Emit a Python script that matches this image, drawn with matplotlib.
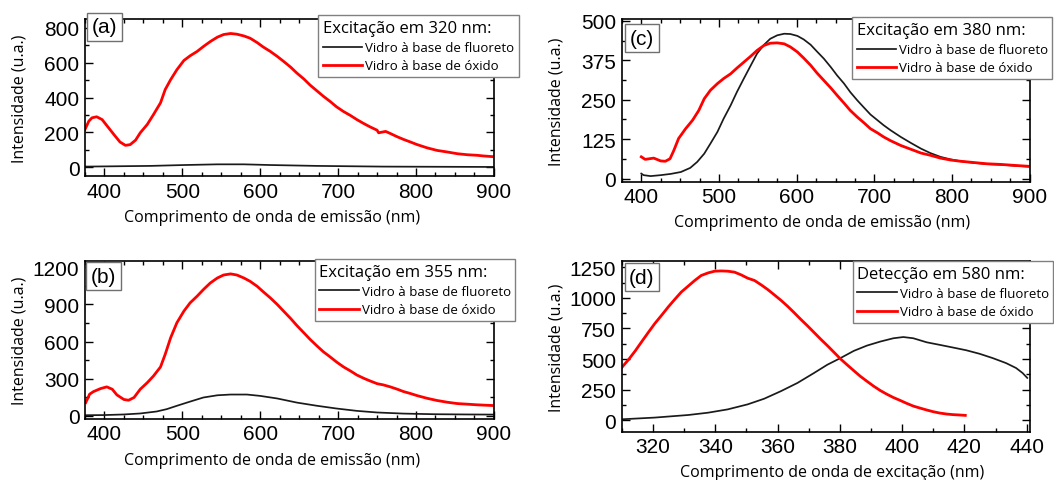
import numpy as np
import matplotlib
matplotlib.use('Agg')
import matplotlib.pyplot as plt
from matplotlib.ticker import MultipleLocator

# (a) excitation at 320 nm
a_ox_x = [375, 380, 384, 390, 397, 403, 412, 420, 427, 433, 440, 446, 455, 463, 472, 478, 485, 493, 502, 510,
          519, 527, 536, 545, 553, 562, 570, 579, 587, 596, 604, 613, 622, 630, 639, 647, 656, 664, 673, 681,
          690, 698, 707, 716, 724, 733, 741, 750, 752, 761, 767, 776, 784, 793, 801, 814, 827, 840, 853, 866,
          878, 887, 899]
a_ox_y = [217, 265, 284, 290, 274, 240, 189, 145, 126, 130, 156, 198, 246, 303, 370, 446, 503, 560, 613, 640,
          665, 693, 722, 747, 762, 768, 764, 754, 741, 716, 690, 665, 636, 608, 575, 541, 507, 472, 438, 408,
          377, 347, 320, 297, 274, 251, 232, 213, 198, 206, 194, 175, 160, 145, 131, 112, 97, 88, 78, 72,
          69, 65, 61]
a_fl_x = [375, 459, 502, 545, 579, 613, 673, 758, 899]
a_fl_y = [4, 8, 13, 17, 17, 13, 8, 4, 2]

# (b) excitation at 355 nm
b_ox_x = [376, 378, 381, 386, 395, 403, 410, 416, 425, 431, 438, 446, 455, 463, 472, 478, 485, 493, 502, 510,
          519, 527, 536, 545, 553, 562, 570, 579, 587, 596, 604, 613, 622, 630, 639, 647, 656, 664, 673, 681,
          690, 698, 707, 716, 724, 733, 741, 750, 758, 767, 776, 784, 793, 801, 814, 827, 840, 853, 866, 878,
          899]
b_ox_y = [107, 134, 175, 196, 220, 234, 215, 169, 132, 126, 148, 215, 268, 322, 395, 497, 631, 752, 846, 913,
          967, 1020, 1074, 1114, 1138, 1147, 1138, 1114, 1087, 1047, 1002, 953, 899, 846, 787, 730, 671, 618, 564, 518,
          475, 435, 395, 362, 330, 303, 282, 260, 250, 234, 215, 196, 180, 164, 142, 124, 110, 99, 94, 89,
          83]
b_fl_x = [376, 399, 425, 446, 467, 480, 493, 510, 527, 545, 562, 583, 600, 622, 647, 673, 698, 724, 750, 784,
          823, 866, 899]
b_fl_y = [5, 6, 11, 19, 35, 54, 81, 115, 148, 166, 172, 172, 161, 140, 107, 81, 59, 40, 27, 18,
          13, 11, 10]

# (c) excitation at 380 nm
c_ox_x = [400, 405, 416, 425, 431, 437, 442, 448, 457, 466, 474, 481, 489, 498, 506, 515, 523, 532, 541, 549,
          558, 566, 575, 584, 592, 601, 609, 618, 626, 635, 644, 652, 661, 669, 678, 687, 695, 704, 712, 721,
          734, 747, 760, 772, 785, 798, 811, 828, 845, 863, 880, 899]
c_ox_y = [69, 61, 65, 56, 55, 63, 90, 127, 158, 185, 216, 253, 280, 301, 317, 332, 350, 369, 388, 406,
          422, 429, 430, 427, 417, 401, 382, 359, 335, 311, 287, 264, 239, 216, 195, 176, 158, 145, 132, 120,
          105, 93, 81, 74, 65, 59, 55, 51, 47, 45, 42, 39]
c_fl_x = [400, 403, 412, 425, 438, 451, 463, 472, 481, 489, 498, 506, 515, 523, 532, 541, 549, 558, 566, 575,
          584, 592, 601, 609, 618, 626, 635, 644, 652, 661, 669, 678, 687, 695, 704, 712, 721, 734, 747, 760,
          772, 785, 798, 811, 828, 845, 863, 880, 899]
c_fl_y = [16, 11, 8, 11, 15, 21, 34, 53, 79, 111, 148, 190, 232, 274, 317, 359, 396, 424, 443, 454,
          459, 458, 452, 441, 424, 403, 380, 353, 327, 301, 274, 248, 224, 203, 185, 169, 153, 132, 113, 95,
          81, 69, 61, 55, 50, 46, 44, 41, 38]

# (d) detection at 580 nm
d_ox_x = [310, 312.1, 314.3, 316.4, 318.5, 320.6, 322.8, 324.9, 327, 329.1, 331.3, 333.4, 335.5, 337.7, 339.8,
          341.9, 344, 346.2, 348.3, 350.4, 352.6, 354.7, 356.8, 358.9, 361.1, 363.2, 365.3, 367.4, 369.6, 371.7,
          373.8, 376, 378.1, 380.2, 382.3, 384.5, 386.6, 388.7, 390.9, 393, 395.1, 397.2, 399.4, 401.5, 403.6,
          405.7, 407.9, 410, 412.1, 414.3, 416.4, 418.5, 420.3]
d_ox_y = [432, 494, 567, 643, 718, 791, 859, 926, 988, 1048, 1096, 1142, 1183, 1204, 1218,
          1220, 1218, 1210, 1188, 1161, 1142, 1107, 1069, 1026, 980, 932, 880, 826, 772, 718,
          664, 610, 556, 502, 454, 405, 359, 319, 278, 243, 213, 186, 162, 138, 116,
          100, 84, 70, 59, 51, 46, 43, 40]
d_fl_x = [310, 320.6, 331.3, 337.7, 344, 350.4, 355.7, 361.1, 366.4, 371.7, 376, 380.2, 384.5, 388.7, 393,
          397.2, 400.4, 403.6, 407.9, 412.1, 416.4, 420.6, 424.9, 429.1, 433.4, 436.6, 438.7, 440.2]
d_fl_y = [8, 22, 43, 62, 89, 130, 176, 238, 305, 386, 454, 508, 567, 610, 643,
          670, 680, 670, 637, 616, 594, 572, 543, 508, 467, 427, 386, 346]

fl_label = 'Vidro à base de fluoreto'
ox_label = 'Vidro à base de óxido'
em_xlabel = 'Comprimento de onda de emissão (nm)'
ex_xlabel = 'Comprimento de onda de excitação (nm)'
ylabel = 'Intensidade (u.a.)'

tick_font = 'Liberation Sans'
text_font = 'Open Sans'

fig = plt.figure(figsize=(10.54, 4.81), dpi=100)

panels = [
    # pos, tag, tag_xy, legend title, legend_xy, xlabel_xy, data, xlim, ylim, xmaj, xmin, ymaj, ymin, xlabel
    ([0.0806, 0.632, 0.388, 0.326], '(a)', (0.048, 0.952), 'Excitação em 320 nm:', (0.570, 1.025), (0.457, -0.21),
     (a_fl_x, a_fl_y, a_ox_x, a_ox_y), (375, 900), (-50, 850), 100, 25, 200, 100, em_xlabel),
    ([0.0806, 0.127, 0.388, 0.328], '(b)', (0.046, 0.905), 'Excitação em 355 nm:', (0.562, 1.013), (0.457, -0.21),
     (b_fl_x, b_fl_y, b_ox_x, b_ox_y), (375, 900), (-25, 1250), 100, 25, 300, 150, em_xlabel),
    ([0.590, 0.620, 0.387, 0.338], '(c)', (0.049, 0.883), 'Excitação em 380 nm:', (0.564, 1.012), (0.49, -0.20),
     (c_fl_x, c_fl_y, c_ox_x, c_ox_y), (375, 900), (-10, 505), 100, 25, 125, 62.5, em_xlabel),
    ([0.590, 0.100, 0.387, 0.355], '(d)', (0.049, 0.906), 'Detecção em 580 nm:', (0.566, 1.0), (0.515, -0.187),
     (d_fl_x, d_fl_y, d_ox_x, d_ox_y), (310, 441), (-95, 1300), 20, 10, 250, 125, ex_xlabel),
]

for pos, tag, tag_xy, title, leg_xy, xl_xy, data, xlim, ylim, xmaj, xmin, ymaj, ymin, xlabel in panels:
    ax = fig.add_axes(pos)
    fx, fy, ox, oy = data
    ax.plot(fx, fy, color='#1a1a1a', lw=1.25, label=fl_label)
    ax.plot(ox, oy, color='#ff0000', lw=2.0, label=ox_label)
    ax.set_xlim(*xlim)
    ax.set_ylim(*ylim)
    ax.xaxis.set_major_locator(MultipleLocator(xmaj))
    ax.xaxis.set_minor_locator(MultipleLocator(xmin))
    ax.yaxis.set_major_locator(MultipleLocator(ymaj))
    ax.yaxis.set_minor_locator(MultipleLocator(ymin))
    ax.tick_params(which='both', direction='in', top=True, right=True, width=1.0)
    ax.tick_params(which='major', length=5.5, labelsize=15, pad=4)
    ax.tick_params(which='minor', length=3)
    for lbl in ax.get_xticklabels() + ax.get_yticklabels():
        lbl.set_fontfamily(tick_font)
    for sp in ax.spines.values():
        sp.set_linewidth(1.2)
    ax.set_xlabel(xlabel, fontfamily=text_font, fontsize=11.5)
    ax.set_ylabel(ylabel, fontfamily=text_font, fontsize=11.5)
    ax.xaxis.set_label_coords(*xl_xy)
    ax.yaxis.set_label_coords(-0.14, 0.5)

    ax.text(tag_xy[0], tag_xy[1], tag, transform=ax.transAxes, ha='center', va='center',
            fontfamily=tick_font, fontsize=15,
            bbox=dict(boxstyle='square,pad=0.22', fc='white', ec='#707070', lw=1.0), clip_on=False)

    leg = ax.legend(title=title, loc='upper left', bbox_to_anchor=leg_xy,
                    title_fontsize=12, frameon=True, fancybox=False, edgecolor='#808080',
                    framealpha=1, handlelength=3.0, handletextpad=0.2, borderpad=0.35,
                    labelspacing=0.4, borderaxespad=0, alignment='left',
                    prop={'family': text_font, 'size': 9.5})
    leg.get_title().set_fontfamily(text_font)
    leg.get_frame().set_linewidth(1.0)
    leg.set_clip_on(False)

fig.savefig('out.png', dpi=100)
